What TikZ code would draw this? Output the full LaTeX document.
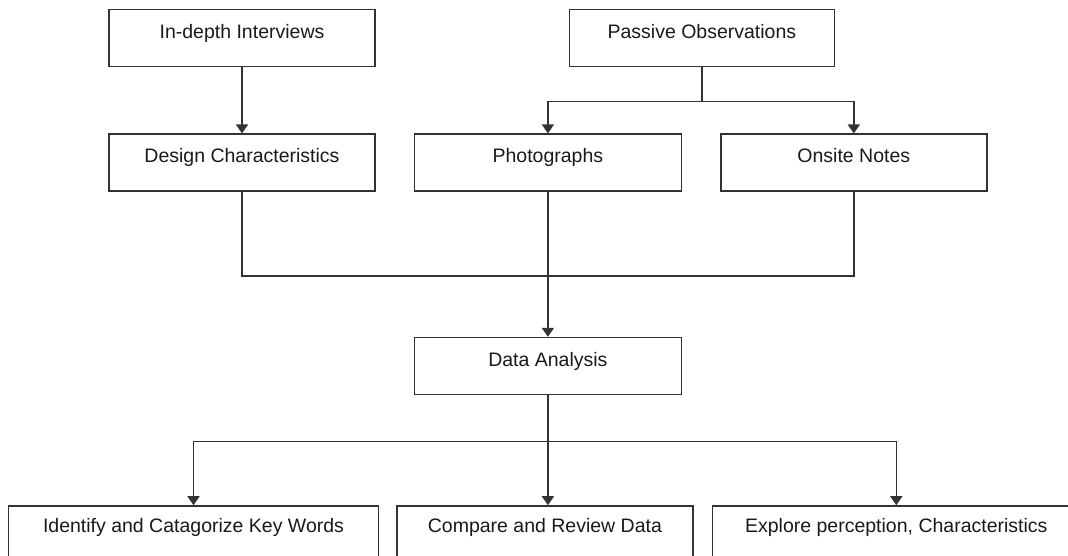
\documentclass[tikz,border=0pt]{standalone}
\usepackage{fontspec}
\setmainfont{Liberation Sans}
\usepackage{tikz}
\usetikzlibrary{positioning,arrows.meta}

\tikzset{
  stepbox/.style={draw=black!80, line width=1.4pt, text=black!90,
    font=\fontsize{19.5}{23}\selectfont, inner xsep=0pt, inner ysep=0pt,
    minimum height=57pt, text height=28.5pt, text depth=28.5pt},
  lowbox/.style={stepbox, minimum height=53pt, text height=27pt, text depth=26pt},
  link/.style={draw=black!80, line width=1.4pt},
  arr/.style={link, -{Triangle[width=12pt,length=9pt]}}
}

\begin{document}
\begin{tikzpicture}[x=1pt, y=1pt]
\useasboundingbox (0,0) rectangle (1068,556);

\node [stepbox, minimum width=266pt] (indepth) at (242,517.75) {In-depth Interviews};
\node [stepbox, minimum width=265pt, right=193pt of indepth] (passive) {Passive Observations};

\node [stepbox, minimum width=266pt, below=66pt of indepth] (design) {Design Characteristics};
\node [stepbox, minimum width=267pt, right=38pt of design] (photos) {Photographs};
\node [stepbox, minimum width=266pt, right=38pt of photos] (onsite) {Onsite Notes};

\node [stepbox, minimum width=267pt, below=145pt of photos] (analysis) {Data Analysis};

\node [lowbox, minimum width=296pt, below=110pt of analysis, xshift=-3pt] (compare) {Compare and Review Data};
\node [lowbox, minimum width=370pt, left=17pt of compare] (identify) {Identify and Catagorize Key Words};
\node [lowbox, minimum width=368pt, right=18pt of compare] (explore) {Explore perception, Characteristics};

\coordinate [below=34pt of passive.south] (split);
\coordinate [below=84pt of photos.south] (merge);
\coordinate [below=46pt of analysis.south] (fan);

% top row
\draw [arr] (indepth) -- (design);
\draw [link] (passive) -- (split);
\draw [arr] (split) -| (photos.north);
\draw [arr] (split) -| (onsite.north);

% into analysis
\draw [link] (design.south) |- (merge) -| (onsite.south);
\draw [arr] (photos) -- (analysis);

% out of analysis
\draw [arr] (analysis.south) -- (analysis.south |- compare.north);
\draw [arr] (fan) -| (identify.north);
\draw [arr] (fan) -| (explore.north);
\end{tikzpicture}
\end{document}
